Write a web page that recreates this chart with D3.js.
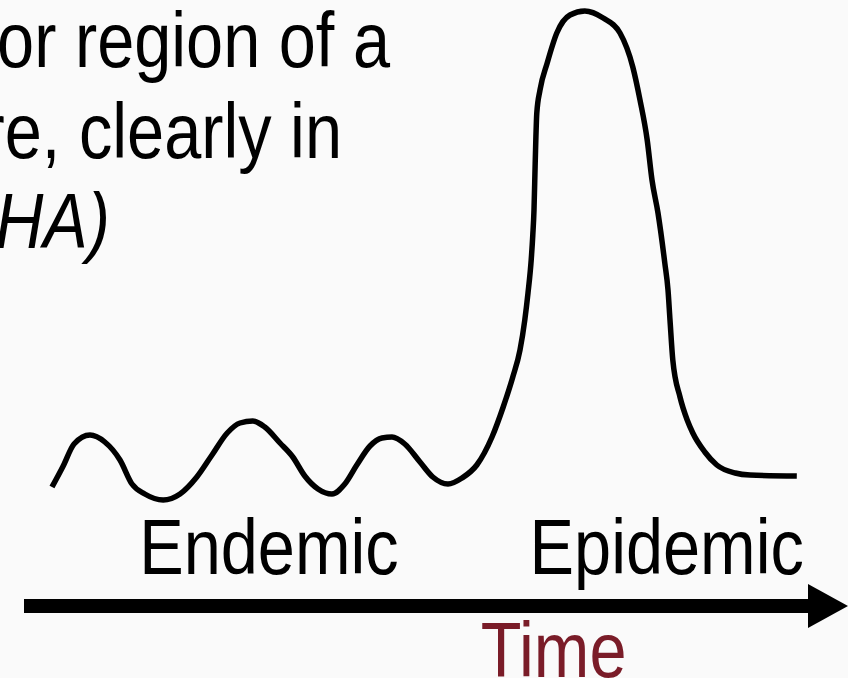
<!DOCTYPE html>
<html>
<head>
<script src="https://d3js.org/d3.v7.min.js"></script>
<style>
  body { margin: 0; background: #fafafa; }
  svg { display: block; background: #fafafa; }
  text { font-family: "Liberation Sans", Arial, sans-serif; }
</style>
</head>
<body>
<svg id="chart" width="848" height="678"></svg>
<script>
// hand drawn curve: time (arbitrary units) vs. number of cases (arbitrary units)
var timeVals = [6.5, 7.9, 9.25, 11.25, 13.1, 15, 16.5, 18.1, 20.4, 22.5, 24.6, 26.5, 28.4, 30, 31.6,
                33.1, 35, 36.6, 38.1, 39.75, 41.5, 43.1, 44.6, 46.25, 47.75, 49, 50.6, 52.5, 54.1,
                56, 57.75, 59.6, 61.5, 62.9, 64.1, 65, 65.6, 66, 66.4, 66.6, 66.75, 66.9, 67.1,
                67.5, 68.4, 69.6, 71.25, 73.1, 75.4, 77.5, 79.1, 80, 80.9, 81.5, 82.25, 83.1,
                83.5, 83.75, 84.1, 85, 85.9, 86.6, 88.1, 89.6, 91.9, 93.75, 99.6];
var caseVals = [2.6, 6.8, 11.2, 13, 11.6, 8, 3.2, 1.2, 0, 1.2, 4.6, 9, 13.4, 15.4, 15.8,
                14.6, 11.4, 8.6, 4.8, 2.2, 1.2, 3.2, 7, 10.8, 12.4, 12.6, 11.2, 7.6, 4.6,
                3.2, 4.4, 7, 12.6, 18.6, 24.6, 30, 36, 41.4, 48, 53, 58, 67.4, 77.4,
                82, 87.4, 93.4, 97, 97.8, 96.4, 93.4, 86.6, 80, 72, 64, 57.4, 47.4,
                42, 36, 28, 20.6, 16, 13.4, 9.6, 7, 5.4, 5, 4.8];

var phaseLabels = ["Endemic", "Epidemic"];
var phaseStart = [17.4, 66.2];
var axisLabel = "Time";

var defLines = ["occurrence in a community or region of a",
                "group of illness of similar nature, clearly in",
                "(APHA)"];

var svg = d3.select("#chart");

var x = d3.scaleLinear().domain([0, 106]).range([0, 848]);
var y = d3.scaleLinear().domain([0, 100]).range([500, 0]);

var pts = timeVals.map(function(t, i) { return [t, caseVals[i]]; });

var line = d3.line()
    .x(d => x(d[0]))
    .y(d => y(d[1]))
    .curve(d3.curveMonotoneX);

svg.append("path")
    .datum(pts)
    .attr("d", line)
    .attr("fill", "none")
    .attr("stroke", "#000")
    .attr("stroke-width", 5.5)
    .attr("stroke-linejoin", "round");

// time arrow
var axisY = 606;
svg.append("rect")
    .attr("x", x(3))
    .attr("y", axisY - 7)
    .attr("width", x(101) - x(3))
    .attr("height", 14)
    .attr("fill", "#000");
svg.append("path")
    .attr("d", "M" + x(101) + "," + (axisY - 22) + "L" + x(106) + "," + axisY + "L" + x(101) + "," + (axisY + 22) + "Z")
    .attr("fill", "#000");

var sx = 0.855;

// phase labels
svg.selectAll("g.phase").data(phaseLabels).enter().append("g")
    .attr("class", "phase")
    .attr("transform", (d, i) => "translate(" + x(phaseStart[i]) + ",574) scale(" + sx + ",1)")
    .append("text")
    .attr("font-size", 78)
    .attr("fill", "#000")
    .text(d => d);

svg.append("g")
    .attr("transform", "translate(" + x(60.1) + ",677) scale(" + sx + ",1)")
    .append("text")
    .attr("font-size", 78)
    .attr("fill", "#7a1c28")
    .text(axisLabel);

// definition text, cut by the left edge
var rights = [390, 342, 110];
var bases = [67, 158, 248];
svg.selectAll("g.def").data(defLines).enter().append("g")
    .attr("class", "def")
    .attr("transform", (d, i) => "translate(" + rights[i] + "," + bases[i] + ") scale(" + sx + ",1)")
    .append("text")
    .attr("font-size", 78)
    .attr("text-anchor", "end")
    .attr("font-style", (d, i) => i == 2 ? "italic" : "normal")
    .attr("fill", "#000")
    .text(d => d);
</script>
</body>
</html>
